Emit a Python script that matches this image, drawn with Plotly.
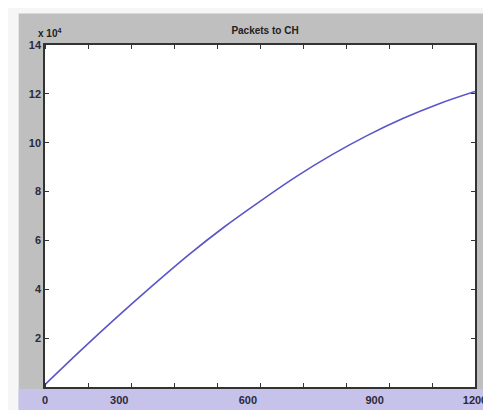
import plotly.graph_objects as go

# Data (values in units of 1e4 packets)
time_s = [0, 100, 200, 300, 400, 500, 600, 700, 800, 900, 1000, 1100, 1200]
packets_e4 = [0.1, 1.5, 2.85, 4.15, 5.4, 6.55, 7.6, 8.6, 9.5, 10.3, 11.0, 11.6, 12.1]

x_tick_labels = ["0", "300", "600", "900", "1200"]
x_tick_pos = [0, 207, 566, 920, 1200]
y_tick_vals = [2, 4, 6, 8, 10, 12, 14]
y_tick_labels = ["2", "4", "6", "8", "10", "12", "14"]

W, H = 491, 410
ML, MR, MT, MB = 37, 13, 37, 26
pw, ph = W - ML - MR, H - MT - MB

def px_x(p):
    return (p - ML) / pw

def px_y(p):
    return (H - MB - p) / ph

fig = go.Figure()
fig.add_trace(go.Scatter(x=time_s, y=packets_e4, mode="lines",
                         line=dict(color="#5a55c8", width=1.6, shape="spline", smoothing=1.0),
                         showlegend=False, hoverinfo="skip"))

font_tick = dict(family="Liberation Sans, Arial, sans-serif", size=11, color="#2a2a3a")

fig.update_layout(
    width=W, height=H,
    margin=dict(l=ML, r=MR, t=MT, b=MB),
    paper_bgcolor="#bfbfbf",
    plot_bgcolor="#ffffff",
    showlegend=False,
    title=dict(text="<b>Packets to CH</b>", x=257 / W, xanchor="center",
               y=1 - 22 / H, yanchor="middle",
               font=dict(family="Liberation Sans, Arial, sans-serif", size=10, color="#222")),
    xaxis=dict(range=[0, 1200], tickmode="array", tickvals=x_tick_pos, ticktext=x_tick_labels,
               ticks="", showgrid=False, zeroline=False, showline=True, linecolor="#333",
               linewidth=1.5, mirror="ticks", tickfont=dict(**font_tick, weight="bold"),
               ticklabelstandoff=2,
               minor=dict(tickmode="linear", tick0=0, dtick=120, ticks="inside",
                          ticklen=4, tickcolor="#333", showgrid=False)),
    yaxis=dict(range=[0, 14], tickmode="array", tickvals=y_tick_vals, ticktext=y_tick_labels,
               ticks="inside", ticklen=4, tickcolor="#333", mirror="ticks",
               showgrid=False, zeroline=False, showline=True, linecolor="#333", linewidth=1.5,
               tickfont=dict(**font_tick, weight="bold")),
    shapes=[
        dict(type="rect", xref="paper", yref="paper", layer="below",
             x0=px_x(-2), x1=px_x(W + 2), y0=px_y(5), y1=px_y(-2),
             fillcolor="#f6f6f6", line=dict(width=0)),
        dict(type="rect", xref="paper", yref="paper", layer="below",
             x0=px_x(-2), x1=px_x(10), y0=px_y(H + 2), y1=px_y(-2),
             fillcolor="#f6f6f6", line=dict(width=0)),
        dict(type="rect", xref="paper", yref="paper", layer="below",
             x0=px_x(10), x1=px_x(W + 2), y0=px_y(H + 2), y1=px_y(386),
             fillcolor="#c6c2ea", line=dict(width=0)),
    ],
    annotations=[
        dict(text="<b>x 10<sup>4</sup></b>", xref="paper", yref="paper",
             x=px_x(36), y=px_y(25), xanchor="left", yanchor="middle", showarrow=False,
             xshift=-8,
             font=dict(family="Liberation Sans, Arial, sans-serif", size=10, color="#222")),
    ],
)

fig.write_html("out.html")
